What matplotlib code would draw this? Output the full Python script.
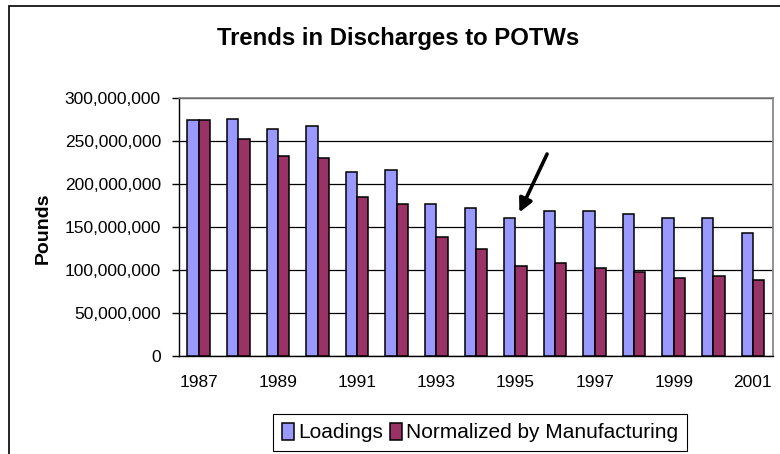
import numpy as np
import matplotlib.pyplot as plt
from matplotlib.patches import Rectangle
from matplotlib.ticker import MultipleLocator, FuncFormatter

plt.rcParams['font.family'] = ['Liberation Sans', 'DejaVu Sans']

years = list(range(1987, 2002))
loadings = [274.4, 276.2, 264.2, 267.7, 214.1, 216.1, 176.8, 171.8,
            160.1, 168.3, 168.3, 165.2, 160.1, 160.1, 143.4]
normalized = [274.4, 252.6, 232.4, 230.8, 185.3, 176.8, 138.3, 124.7,
              104.5, 108.0, 102.6, 97.6, 90.9, 92.5, 87.9]
loadings = [v * 1e6 for v in loadings]
normalized = [v * 1e6 for v in normalized]
xlabels = [str(y) if (y - 1987) % 2 == 0 else '' for y in years]

fig = plt.figure(figsize=(7.8, 4.54), dpi=100)
W, H = 780, 454
ax = fig.add_axes([179 / W, 1 - 355.7 / H, (772.7 - 179) / W, (355.7 - 98.3) / H])

# chart border (Excel chart area)
fig.patches.append(Rectangle((9 / W, -0.1), 1.2, 1 - 5.5 / H + 0.1,
                             transform=fig.transFigure, fill=False,
                             edgecolor='black', linewidth=1.2, zorder=0))

x = np.arange(len(years))
bw = 1 / 3.5
ax.bar(x - bw / 2, loadings, bw, color='#9999FF', edgecolor='black',
       linewidth=1.1, label='Loadings', zorder=3)
ax.bar(x + bw / 2, normalized, bw, color='#993366', edgecolor='black',
       linewidth=1.1, label='Normalized by Manufacturing', zorder=3)

ax.set_xlim(-0.5, len(years) - 0.5)
ax.set_ylim(0, 300e6)
ax.yaxis.set_major_locator(MultipleLocator(50e6))
ax.yaxis.set_major_formatter(FuncFormatter(lambda v, p: f'{int(v):,}'))
ax.set_xticks(x)
ax.set_xticklabels(xlabels)
ax.tick_params(axis='x', length=0, pad=14, labelsize=12.5)
ax.tick_params(axis='y', length=5, width=1, labelsize=12.5, pad=8)
ax.grid(axis='y', color='black', linewidth=0.9, zorder=0)

for side in ['top', 'right']:
    ax.spines[side].set_color('#808080')
    ax.spines[side].set_linewidth(1.2)
for side in ['left', 'bottom']:
    ax.spines[side].set_color('black')
    ax.spines[side].set_linewidth(1)

fig.text(43 / W, 1 - 228 / H, 'Pounds', fontsize=14, fontweight='bold',
         rotation=90, ha='center', va='center')
fig.text(398 / W, 1 - 45 / H, 'Trends in Discharges to POTWs',
         fontsize=17.2, fontweight='bold', ha='center', va='baseline')

ax.annotate('', xy=(8.07, 164e6), xytext=(8.83, 238e6),
            arrowprops=dict(arrowstyle='-|>', color='black', lw=2.6,
                            mutation_scale=20), zorder=5)

leg = fig.legend(loc='center', bbox_to_anchor=(480 / W, 1 - 432.5 / H),
                 ncol=2, fontsize=15, frameon=True, fancybox=False,
                 edgecolor='black', framealpha=1, handlelength=0.6,
                 handleheight=0.9, handletextpad=0.2, columnspacing=0.3,
                 borderpad=0.4)
leg.get_frame().set_linewidth(0.8)

fig.savefig('out.png', dpi=100)
